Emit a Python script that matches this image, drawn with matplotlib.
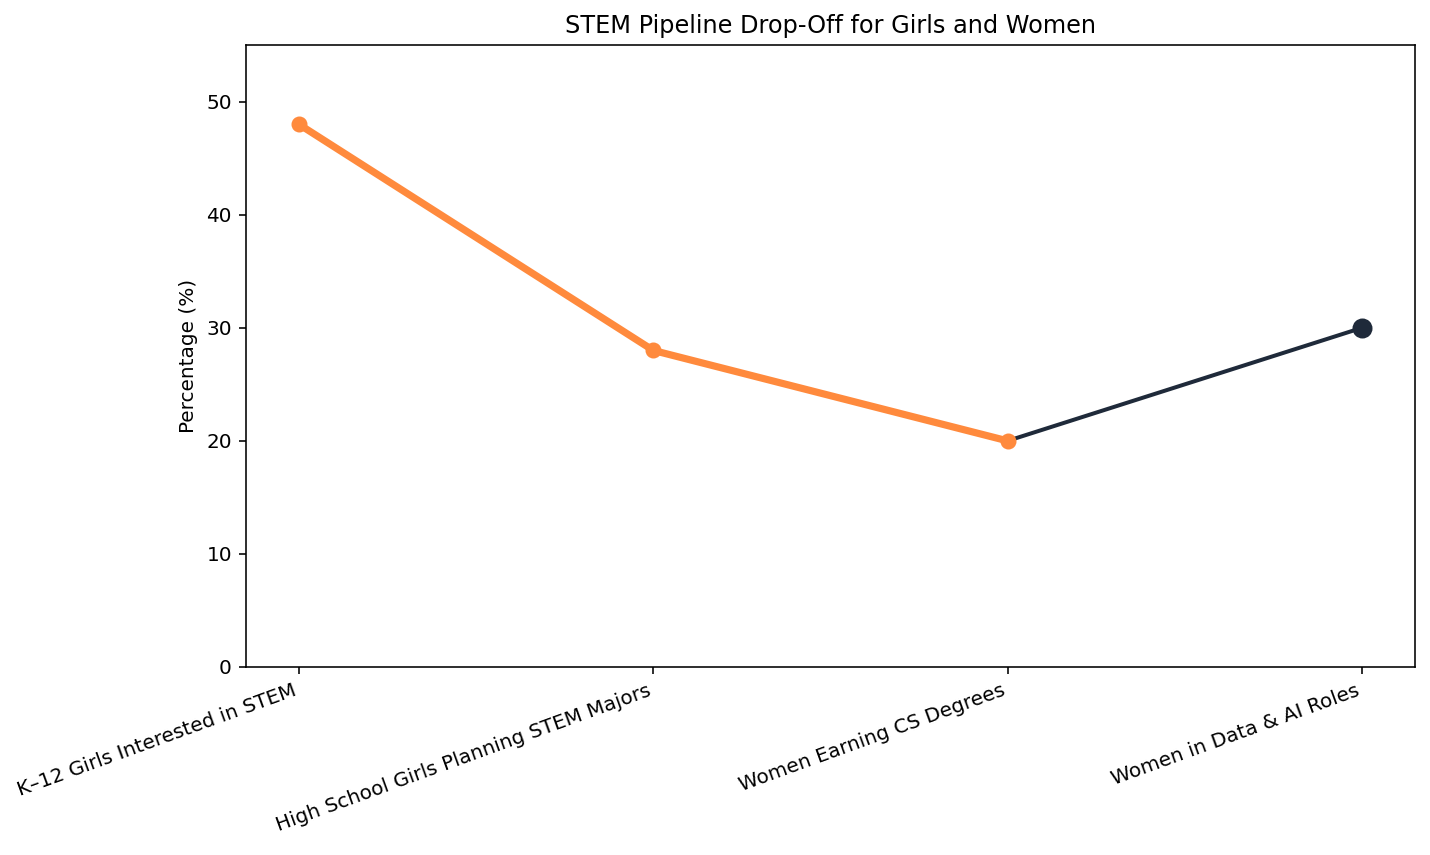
import matplotlib
matplotlib.use("Agg")
import matplotlib.pyplot as plt

stages = ["K\u201312 Girls Interested in STEM",
          "High School Girls Planning STEM Majors",
          "Women Earning CS Degrees",
          "Women in Data & AI Roles"]
pipeline_values = [48, 28, 20]
data_ai_values = [20, 30]

orange = "#ff8a3d"
navy = "#1f2a3a"

dpi = 144
fig = plt.figure(figsize=(1430 / dpi, 855 / dpi), dpi=dpi)
ax = fig.add_axes([0.172, 0.220, 0.8175, 0.727])

x_all = list(range(len(stages)))
ax.plot(x_all[2:4], data_ai_values, color=navy, linewidth=2.0, zorder=2)
ax.plot(x_all[3:4], data_ai_values[1:], 'o', color=navy, markersize=9, zorder=3)
ax.plot(x_all[0:3], pipeline_values, color=orange, linewidth=3.6, marker='o',
        markersize=7, zorder=4)

ax.set_xlim(-0.15, 3.15)
ax.set_ylim(0, 55)
ax.set_xticks(x_all)
ax.set_xticklabels(stages, rotation=20, ha='right')
ax.set_yticks([0, 10, 20, 30, 40, 50])
ax.set_ylabel("Percentage (%)")
ax.set_title("STEM Pipeline Drop-Off for Girls and Women")

fig.savefig("out.png", dpi=dpi)
